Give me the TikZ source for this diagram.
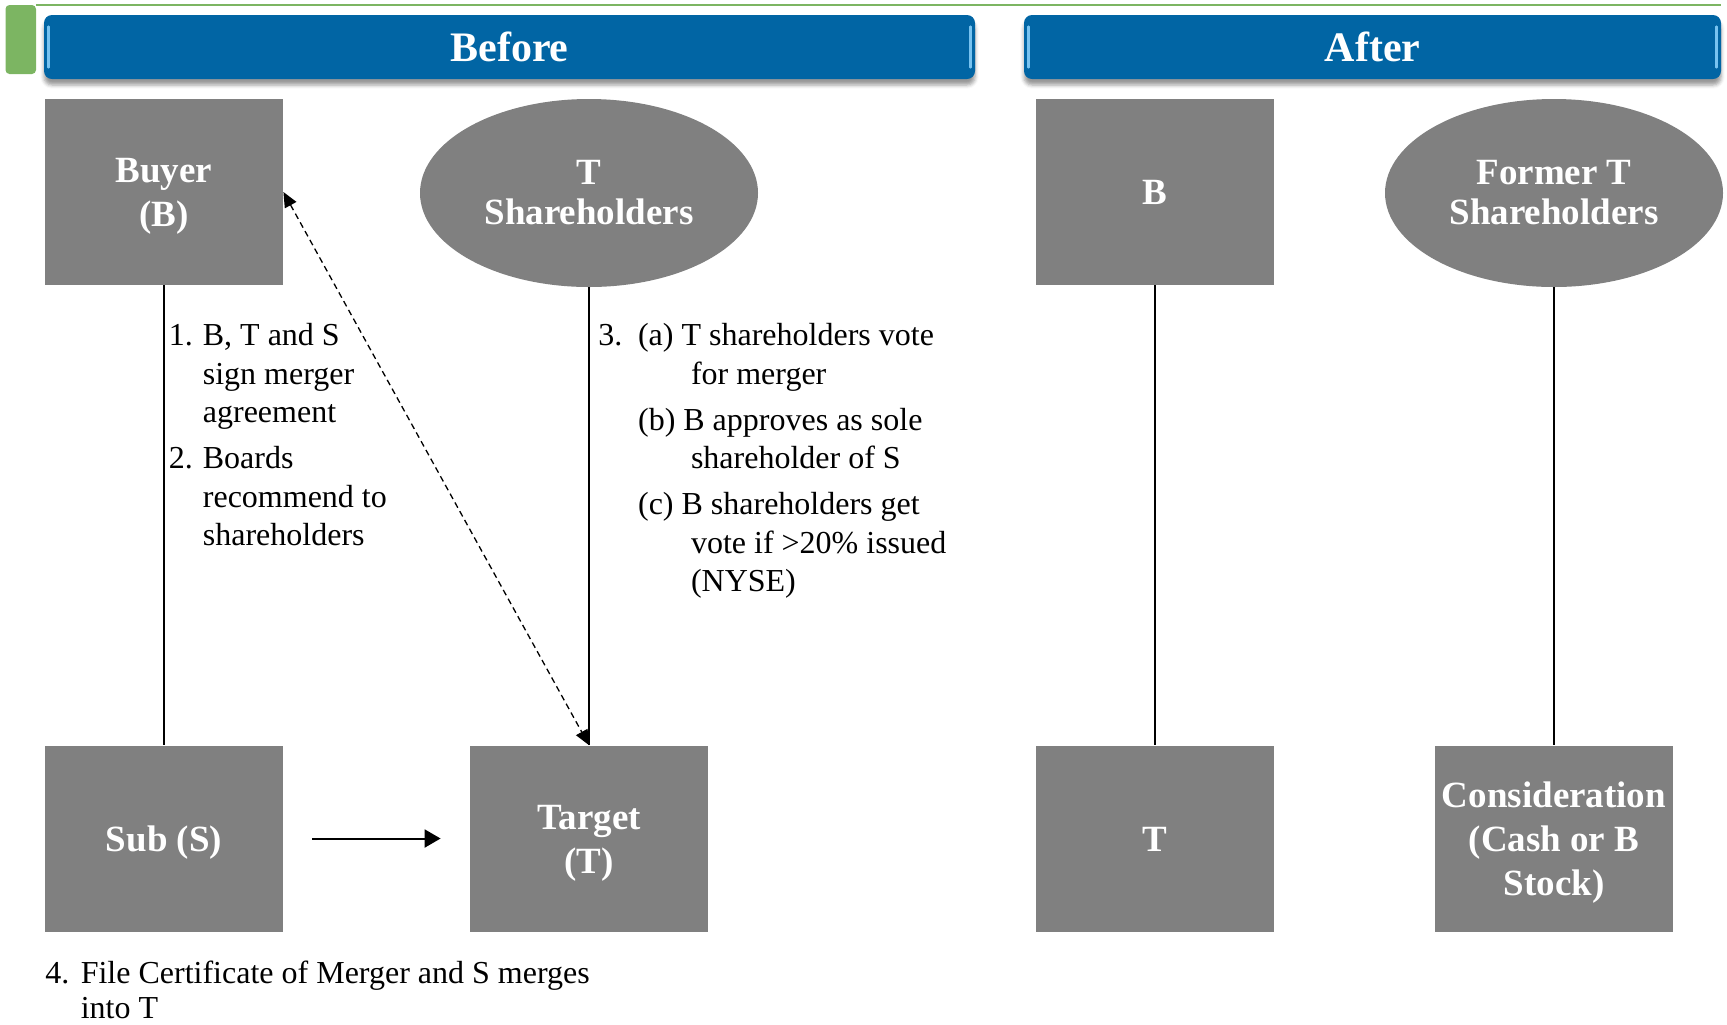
\documentclass[tikz,border=0pt]{standalone}
\usepackage{fontspec}
\setmainfont{Liberation Serif}
\usetikzlibrary{arrows.meta,shapes.geometric,shadows.blur}
\definecolor{barblue}{RGB}{1,101,164}
\definecolor{barlight}{RGB}{120,195,240}
\definecolor{tabgreen}{RGB}{124,181,98}
\definecolor{boxgray}{RGB}{128,128,128}
% fixed line heights for the box texts
\newcommand{\topline}{\rule{0pt}{17.1pt}}
\newcommand{\lastline}{\rule[-4.2pt]{0pt}{4.2pt}}

\begin{document}
\begin{tikzpicture}[x=0.5pt, y=-0.5pt,
  entity/.style={fill=boxgray, minimum width=119pt, minimum height=93pt, inner sep=2pt,
    align=center, text=white, font=\fontsize{18.5}{22}\selectfont\bfseries},
  owners/.style={ellipse, fill=boxgray, minimum width=169pt, minimum height=94pt, inner sep=0pt,
    align=center, text=white, font=\fontsize{18.5}{20}\selectfont\bfseries},
  header/.style={fill=barblue, rounded corners=4pt, minimum height=32pt,
    blur shadow={shadow xshift=0pt, shadow yshift=-3pt, shadow opacity=40},
    text=white, font=\fontsize{21}{24}\selectfont\bfseries},
  note/.style={inner sep=0pt, anchor=base west, font=\fontsize{16}{19.25}\selectfont},
  link/.style={line width=0.8pt},
  dashtip/.tip={Triangle[length=7.5pt,width=6.5pt]}]
  \useasboundingbox (0,0) rectangle (1727,1024);
  % tab and rule at the top
  \fill[tabgreen, rounded corners=2pt] (5.5,5) rectangle (36,74);
  \draw[tabgreen, line width=1pt] (36,4.5) -- (1721,4.5);
  % headers
  \node[header, minimum width=465.5pt] (before) at (509.5,47) {Before};
  \node[header, minimum width=348.5pt] (after) at (1372.5,47) {After};
  \foreach \bar in {before,after} {
    \draw[barlight, line width=1.2pt, line cap=round]
      ([xshift=2.5pt,yshift=-6pt]\bar.north west) -- ([xshift=2.5pt,yshift=6pt]\bar.south west);
    \draw[barlight, line width=1.2pt, line cap=round]
      ([xshift=-2.5pt,yshift=-6pt]\bar.north east) -- ([xshift=-2.5pt,yshift=6pt]\bar.south east);
  }
  % before
  \node[entity] (buyer) at (164,192) {\topline Buyer\\(B)\lastline};
  \node[owners] (tsh) at (589,193) {T\\Shareholders};
  \node[entity] (sub) at (164,838.5) {\topline Sub (S)\lastline};
  \node[entity] (target) at (589,838.5) {\topline Target\\(T)\lastline};
  % after
  \node[entity] (bafter) at (1155,192) {\topline B\lastline};
  \node[owners] (former) at (1554,193) {Former T\\Shareholders};
  \node[entity] (tafter) at (1155,838.5) {\topline T\lastline};
  \node[entity] (consid) at (1554,838.5) {\topline Consideration\\(Cash or B\\Stock)\lastline};
  \draw[link] (buyer) -- (sub);
  \draw[link] (tsh) -- (target);
  \draw[link] (bafter) -- (tafter);
  \draw[link] (former) -- (consid);
  \draw[line width=0.65pt, dash pattern=on 3pt off 2pt, dashtip-dashtip] (buyer.east) -- (target.north);
  \draw[line width=1pt, -{Triangle[length=8pt,width=9pt]}, shorten <=14.5pt, shorten >=14.5pt] (sub) -- (target);
  % steps
  \node[note] (stepone) at (168.5,345.5) {\begin{tabular}[t]{@{}p{17pt}@{}l@{}}
    1. & B, T and S\\ & sign merger\\ & agreement\\[3.75pt]
    2. & Boards\\ & recommend to\\ & shareholders\end{tabular}};
  \node[note] (stepthree) at (598,345.5) {\begin{tabular}[t]{@{}p{19.85pt}@{}p{26.45pt}@{}l@{}}
    3. & \multicolumn{2}{@{}l@{}}{(a) T shareholders vote}\\ & & for merger\\[3.75pt]
       & \multicolumn{2}{@{}l@{}}{(b) B approves as sole}\\ & & shareholder of S\\[3.75pt]
       & \multicolumn{2}{@{}l@{}}{(c) B shareholders get}\\ & & vote if >20\% issued\\ & & (NYSE)\end{tabular}};
  \node[note] (stepfour) at (45,1018.5) {\raisebox{0pt}[\height][0pt]{\begin{tabular}[b]{@{}p{17.7pt}@{}l@{}}
    4. & File Certificate of Merger and S merges\\[-1.5pt] & into T\end{tabular}}};
\end{tikzpicture}
\end{document}
